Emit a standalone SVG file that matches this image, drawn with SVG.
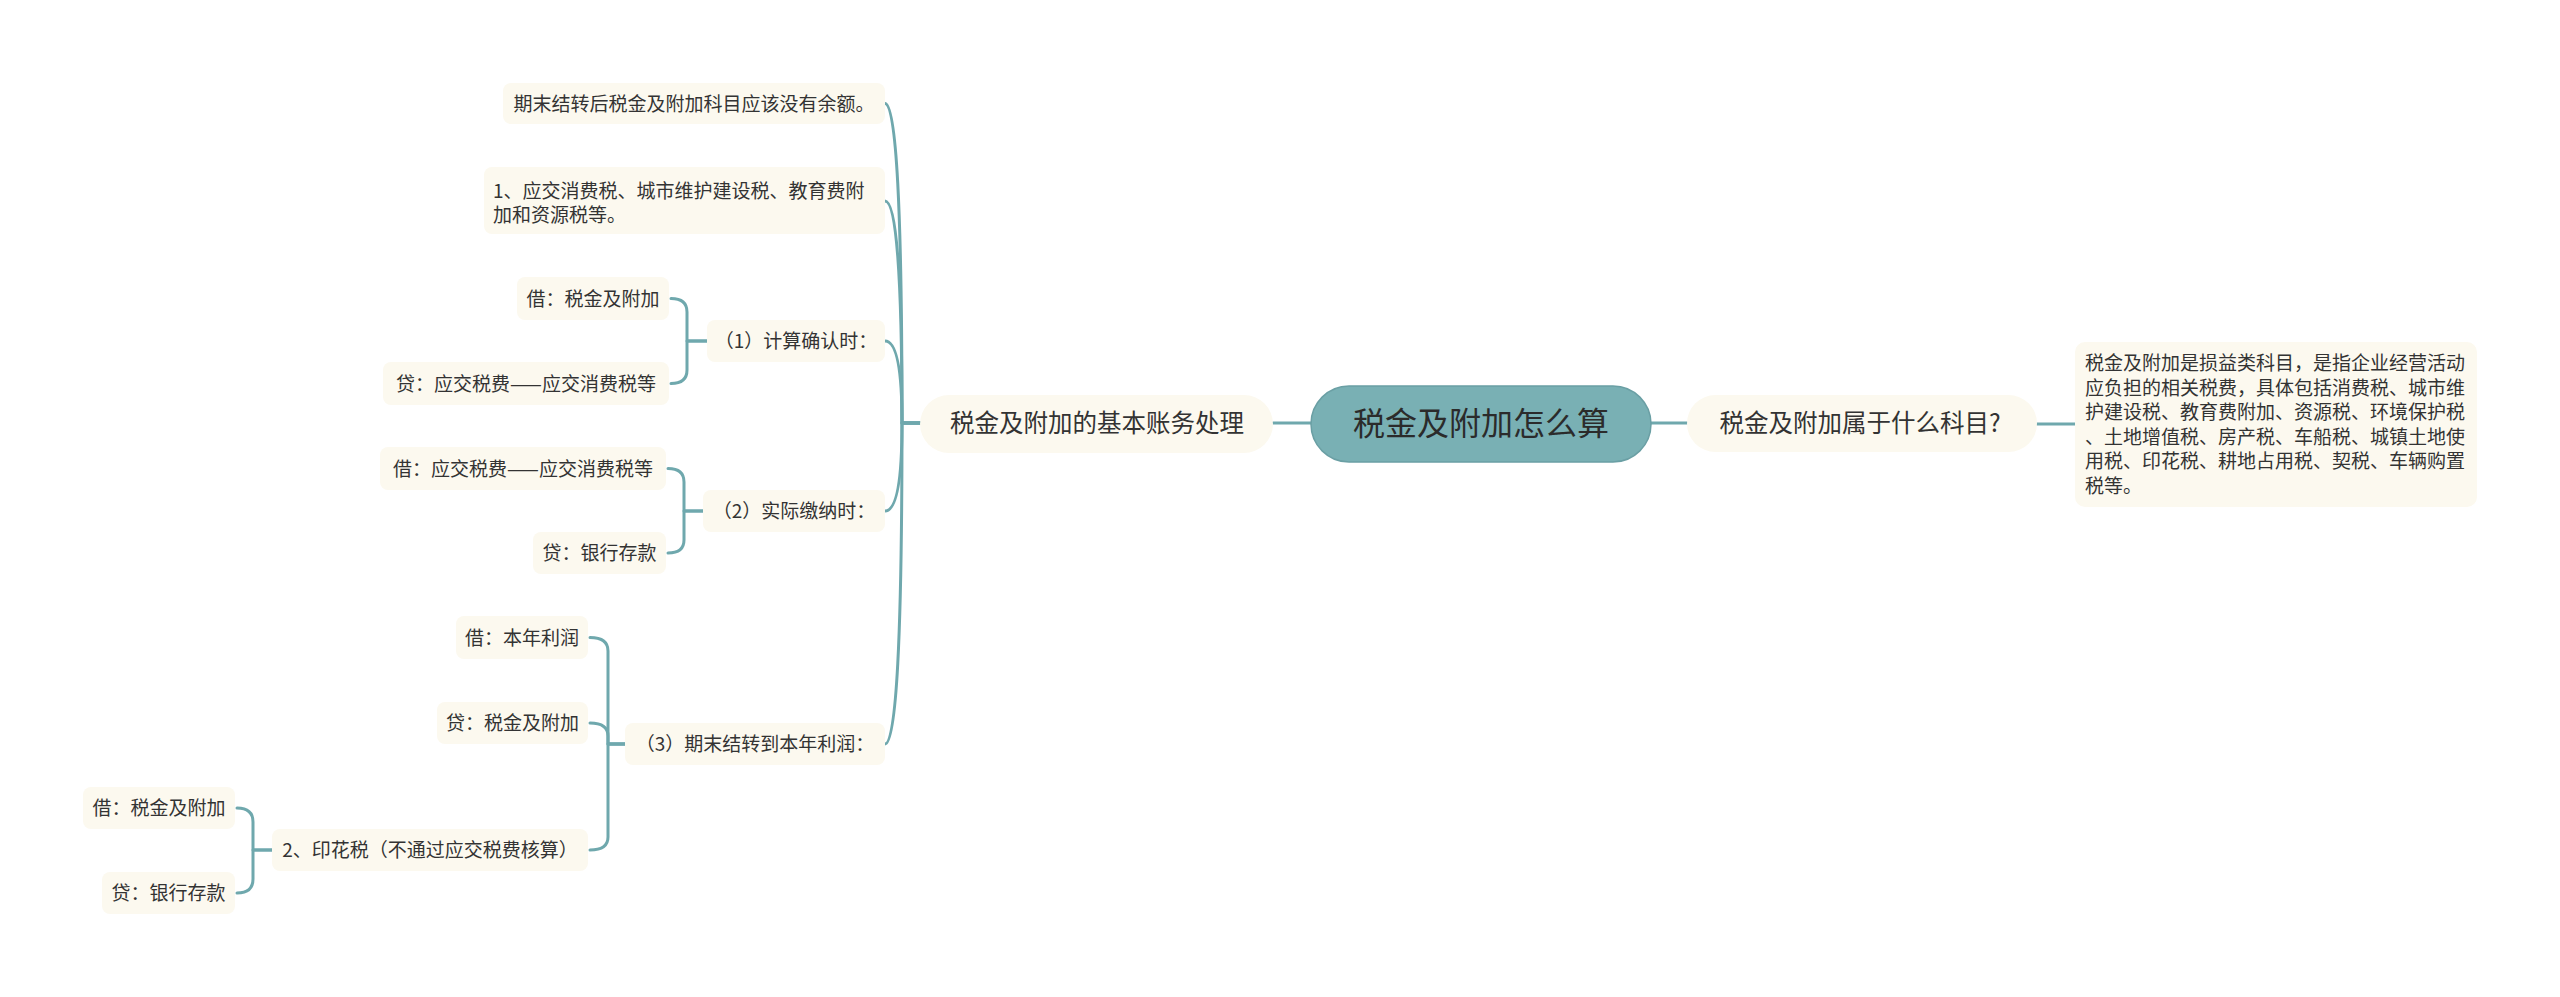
<svg xmlns="http://www.w3.org/2000/svg" width="2560" height="997" viewBox="0 0 2560 997">
<style>
.n{fill:#fcf9ef;}
.t{font-family:"Noto Sans CJK SC","Noto Sans",sans-serif;font-size:19px;fill:#333333;}
.tm{text-anchor:middle;}
.t2{font-size:24.5px;}
.c{fill:none;stroke:#6fa8ad;stroke-width:3;stroke-linecap:round;stroke-linejoin:round;}
</style>
<rect x="0" y="0" width="2560" height="997" fill="#ffffff"/>
<g id="connectors">
<path class="c" d="M1311 423 H1273"/>
<path class="c" d="M1651 423 H1687"/>
<path class="c" d="M2037 424 H2075"/>
<path class="c" d="M920 423 H902 Q902 103.5 885 103.5"/>
<path class="c" d="M920 423 H902 Q902 201 885 201"/>
<path class="c" d="M920 423 H902 Q902 341 885 341"/>
<path class="c" d="M920 423 H902 Q902 511 885 511"/>
<path class="c" d="M920 423 H902 Q902 744 885 744"/>
<path class="c" d="M707 341 H687 V312 Q687 298.5 671 298.5"/>
<path class="c" d="M707 341 H687 V370 Q687 383.5 671 383.5"/>
<path class="c" d="M703 511 H684 V482 Q684 468.5 668 468.5"/>
<path class="c" d="M703 511 H684 V540 Q684 553 668 553"/>
<path class="c" d="M625 744 H608 V651 Q608 637.5 590 637.5"/>
<path class="c" d="M625 744 H608 V736 Q608 723 590 723"/>
<path class="c" d="M625 744 H608 V837 Q608 850 590 850"/>
<path class="c" d="M272 850 H253 V822 Q253 808 237 808"/>
<path class="c" d="M272 850 H253 V879 Q253 893 237 893"/>
</g>
<g id="root">
<rect x="1311" y="386" width="340" height="76" rx="38" fill="#79b0b4" stroke="#6a9fa4" stroke-width="1.5"/>
<text class="t tm" x="1481" y="435" style="font-size:32px;fill:#2b2b2b">税金及附加怎么算</text>
</g>
<g id="n-basic">
<rect class="n" x="920" y="395" width="353" height="58" rx="29"/>
<text class="t t2 tm" x="1097" y="432">税金及附加的基本账务处理</text>
</g>
<g id="n-subject">
<rect class="n" x="1687" y="395" width="350" height="57" rx="28.5"/>
<text class="t t2 tm" x="1860" y="432">税金及附加属于什么科目?</text>
</g>
<g id="n-subject-detail">
<rect class="n" x="2075" y="342" width="402" height="165" rx="10"/>
<text class="t" x="2085" y="370">税金及附加是损益类科目，是指企业经营活动</text>
<text class="t" x="2085" y="394.5">应负担的相关税费，具体包括消费税、城市维</text>
<text class="t" x="2085" y="419">护建设税、教育费附加、资源税、环境保护税</text>
<text class="t" x="2085" y="443.5">、土地增值税、房产税、车船税、城镇土地使</text>
<text class="t" x="2085" y="468">用税、印花税、耕地占用税、契税、车辆购置</text>
<text class="t" x="2085" y="492.5">税等。</text>
</g>
<g id="n-balance">
<rect class="n" x="503" y="83" width="382" height="41" rx="8"/>
<text class="t tm" x="694" y="110.5">期末结转后税金及附加科目应该没有余额。</text>
</g>
<g id="n-taxes">
<rect class="n" x="484" y="167" width="401" height="67" rx="8"/>
<text class="t" x="493" y="198">1、应交消费税、城市维护建设税、教育费附</text>
<text class="t" x="493" y="222">加和资源税等。</text>
</g>
<g id="n-calc">
<rect class="n" x="707" y="320" width="178" height="42" rx="8"/>
<text class="t tm" x="796" y="348">（1）计算确认时：</text>
</g>
<g id="n-calc-debit">
<rect class="n" x="517" y="277" width="152" height="43" rx="8"/>
<text class="t tm" x="593" y="305.5">借：税金及附加</text>
</g>
<g id="n-calc-credit">
<rect class="n" x="383" y="362" width="286" height="43" rx="8"/>
<text class="t tm" x="526" y="390.5">贷：应交税费——应交消费税等</text>
</g>
<g id="n-pay">
<rect class="n" x="703" y="490" width="182" height="42" rx="8"/>
<text class="t tm" x="794" y="518">（2）实际缴纳时：</text>
</g>
<g id="n-pay-debit">
<rect class="n" x="380" y="447" width="286" height="43" rx="8"/>
<text class="t tm" x="523" y="475.5">借：应交税费——应交消费税等</text>
</g>
<g id="n-pay-credit">
<rect class="n" x="533" y="532" width="133" height="42" rx="8"/>
<text class="t tm" x="599.5" y="560">贷：银行存款</text>
</g>
<g id="n-close">
<rect class="n" x="625" y="723" width="260" height="42" rx="8"/>
<text class="t tm" x="755" y="751">（3）期末结转到本年利润：</text>
</g>
<g id="n-close-debit">
<rect class="n" x="456" y="616" width="132" height="43" rx="8"/>
<text class="t tm" x="522" y="644.5">借：本年利润</text>
</g>
<g id="n-close-credit">
<rect class="n" x="437" y="702" width="151" height="42" rx="8"/>
<text class="t tm" x="512.5" y="730">贷：税金及附加</text>
</g>
<g id="n-stamp">
<rect class="n" x="272" y="829" width="316" height="42" rx="8"/>
<text class="t tm" x="430" y="857">2、印花税（不通过应交税费核算）</text>
</g>
<g id="n-stamp-debit">
<rect class="n" x="83" y="787" width="152" height="42" rx="8"/>
<text class="t tm" x="159" y="815">借：税金及附加</text>
</g>
<g id="n-stamp-credit">
<rect class="n" x="102" y="872" width="133" height="42" rx="8"/>
<text class="t tm" x="168.5" y="900">贷：银行存款</text>
</g>
</svg>
